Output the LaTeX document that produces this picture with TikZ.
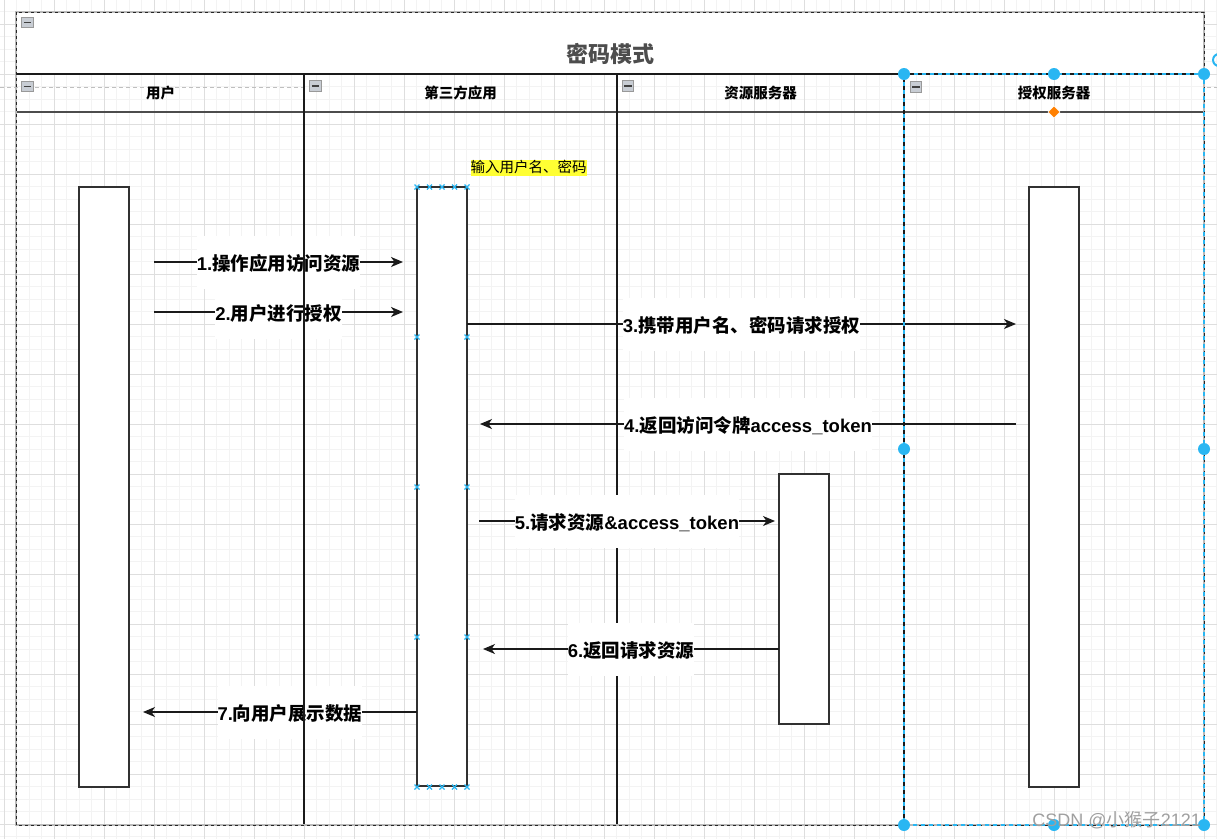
\documentclass[tikz,border=0pt]{standalone}
\usepackage{fontspec}
\setmainfont{Liberation Sans}
\newfontfamily\cjk{Noto Sans CJK SC}
\usetikzlibrary{arrows.meta}
\definecolor{sel}{HTML}{29B6F2}
\definecolor{gmin}{HTML}{F3F3F3}
\definecolor{gmaj}{HTML}{DEDEDE}
\definecolor{ln}{HTML}{1A1A1A}
\definecolor{ttl}{HTML}{4D4D4D}
\definecolor{hl}{HTML}{FFFF33}
\definecolor{iconbg}{HTML}{C8CDD4}
\tikzset{
  actbox/.style={draw=ln!90, line width=1.3pt, fill=white, minimum width=50pt, inner sep=0pt},
  msg/.style={draw=ln, line width=1.2pt, -{Stealth[length=12pt,width=10pt,inset=3.5pt]}},
  lbl/.style={fill=white, font=\fontsize{18.5}{20}\selectfont\bfseries, inner xsep=0pt, inner ysep=16.5pt, text height=18pt, text depth=2pt},
  lanetitle/.style={font=\fontsize{14.5}{16}\selectfont\bfseries\cjk, inner sep=0pt},
  colicon/.style={draw=gray!80, fill=iconbg, minimum width=11.5pt, minimum height=10.5pt, inner sep=0pt, line width=0.6pt},
  handle/.style={fill=sel, draw=none},
  xmark/.style={draw=sel, line width=1.1pt},
}
\newcommand{\C}[1]{{\cjk #1}}
\begin{document}
\begin{tikzpicture}[x=1pt,y=-1pt]
\useasboundingbox (0,0) rectangle (1217,839);
\clip (0,0) rectangle (1217,839);
\fill[white] (0,0) rectangle (1217,839);
% grid
\foreach \i in {0,...,97} { \draw[gmin, line width=0.8pt] ({4.3+12.5*\i},0) -- ++(0,839); }
\foreach \i in {0,...,67} { \draw[gmin, line width=0.8pt] (0,{11.8+12.5*\i}) -- ++(1217,0); }
\foreach \i in {0,...,24} { \draw[gmaj, line width=0.8pt] ({4.3+50*\i},0) -- ++(0,839); }
\foreach \i in {0,...,16} { \draw[gmaj, line width=0.8pt] (0,{24.3+50*\i}) -- ++(1217,0); }
% pool title area
\fill[white] (16,12) rectangle (1204,74);
\node[font=\fontsize{22}{24}\selectfont\bfseries\cjk, text=ttl] (title) at (610,54) {密码模式};
% header lines
\draw[ln, line width=1.3pt] (16,74) -- (1204,74);
\draw[black!70, line width=1.5pt] (16,112) -- (1204,112);
% guide line
\draw[gray!50, line width=1pt, dash pattern=on 4pt off 3pt] (0,87) -- (304,87);
\draw[gray!50, line width=1pt, dash pattern=on 4pt off 3pt] (1207,87) -- (1217,87);
% lane titles
\node[lanetitle] (l1) at (160.5,93) {用户};
\node[lanetitle] (l2) at (460.5,93) {第三方应用};
\node[lanetitle] (l3) at (760.5,93) {资源服务器};
\node[lanetitle] (l4) at (1054,93) {授权服务器};
% collapse icons
\foreach \p/\n in {{(27.5,22.5)}/i0,{(27.5,86.5)}/i1,{(315.5,86)}/i2,{(628,86)}/i3,{(916,87)}/i4} {
  \node[colicon] (\n) at \p {};
  \draw[black!75, line width=1.3pt] ([xshift=2.5pt]\n.west) -- ([xshift=-2.5pt]\n.east);
}
% lane divider at 617 (under labels)
\draw[ln, line width=1.3pt] (617,74) -- (617,825);
% activation boxes
\node[actbox, minimum height=600pt] (user) at (104,487) {};
\node[actbox, minimum height=599pt] (app) at (442,486.5) {};
\node[actbox, minimum height=250pt] (res) at (804,599) {};
\node[actbox, minimum height=600pt] (auth) at (1054,487) {};
% yellow note
\node[fill=hl, inner xsep=0pt, inner ysep=0.8pt, text height=12pt, text depth=3pt, font=\fontsize{14.5}{16}\selectfont\cjk] (note) at (528.5,168) {输入用户名、密码};
% message ends
\coordinate (m1s) at (154,262); \coordinate (m1e) at (403,262);
\coordinate (m2s) at (154,312); \coordinate (m2e) at (403,312);
\coordinate (m3s) at (467,324); \coordinate (m3e) at (1016,324);
\coordinate (m4s) at (1016,424); \coordinate (m4e) at (480,424);
\coordinate (m5s) at (479,521); \coordinate (m5e) at (775,521);
\coordinate (m6s) at (779,649); \coordinate (m6e) at (483,649);
\coordinate (m7s) at (417,712); \coordinate (m7e) at (143,712);
\draw[msg] (m1s) -- node[lbl] (t1) {1.\C{操作应用访问资源}} (m1e);
\draw[msg] (m2s) -- node[lbl] (t2) {2.\C{用户进行授权}} (m2e);
\draw[msg] (m3s) -- node[lbl] (t3) {3.\C{携带用户名、密码请求授权}} (m3e);
\draw[msg] (m4s) -- node[lbl] (t4) {4.\C{返回访问令牌}access\_token} (m4e);
\draw[msg] (m5s) -- node[lbl] (t5) {5.\C{请求资源}\&access\_token} (m5e);
\draw[msg] (m6s) -- node[lbl] (t6) {6.\C{返回请求资源}} (m6e);
\draw[msg] (m7s) -- node[lbl, pos=0.4635] (t7) {7.\C{向用户展示数据}} (m7e);
% lane divider at 304 (over labels)
\draw[ln, line width=1.3pt] (304,74) -- (304,825);
\draw[ln, line width=1.3pt] (904,74) -- (904,825);
% pool border
\draw[gray!55, line width=1.2pt] (16,12) rectangle (1204,825);
\draw[black!85, line width=1pt, dash pattern=on 3pt off 3pt] (16,12) rectangle (1204,825);
% blue x marks on app box
\foreach \x in {417,429.5,442,454.5,467} {
  \foreach \y in {187,787} {
    \draw[xmark] (\x-2.5,\y-2.5) -- (\x+2.5,\y+2.5) (\x-2.5,\y+2.5) -- (\x+2.5,\y-2.5);
  }
}
\foreach \x in {417,467} {
  \foreach \y in {337,487,637} {
    \draw[xmark] (\x-2.5,\y-2.5) -- (\x+2.5,\y+2.5) (\x-2.5,\y+2.5) -- (\x+2.5,\y-2.5);
  }
}
% selection of lane 4
\draw[sel, line width=1.3pt, dash pattern=on 4pt off 4pt] (904,74) rectangle (1204,825);
\foreach \p in {(904,74),(1054,74),(1204,74),(904,449),(1204,449),(904,825),(1054,825),(1204,825)} {
  \fill[handle] \p circle (6pt);
}
\fill[orange, draw=white, line width=0.6pt] (1054,106) -- (1060,112) -- (1054,118) -- (1048,112) -- cycle;
\draw[sel, line width=2pt] (1219,60) circle (6pt);
% watermark
\node[text=gray!75, font=\fontsize{18}{20}\selectfont, inner sep=0pt, anchor=east] (wm) at (1201,820) {CSDN @\C{小猴子}2121};
\end{tikzpicture}
\end{document}
